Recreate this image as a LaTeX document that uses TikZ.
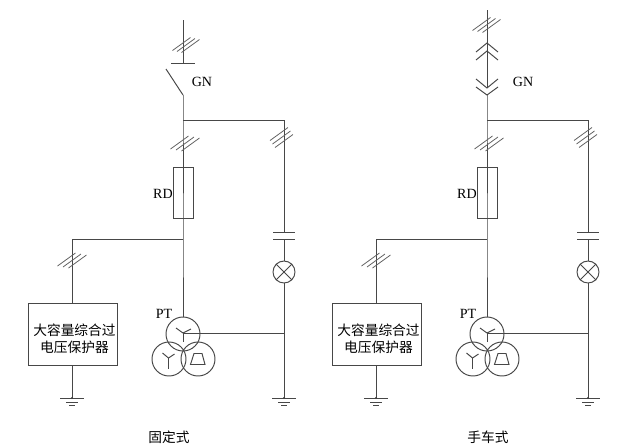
\documentclass[tikz,border=0pt]{standalone}
\usepackage{fontspec}
\usetikzlibrary{calc}
\setmainfont{Liberation Serif}
\newfontfamily\cjk{Noto Sans CJK SC}
\tikzset{
  wire/.style = {draw=black!72, line width=.55pt},
  hatch/.style = {draw=black!62, line width=.45pt},
  lbl/.style = {inner sep=0pt, font=\fontsize{8}{9}\selectfont},
  cjklbl/.style = {inner sep=0pt, align=center, font=\cjk\fontsize{7.8}{9.7}\selectfont},
}
% three slanted strokes over a line, second argument is their spacing
\newcommand{\hatchmark}[2]{
  \draw[hatch] ($(#1)+(-9,6.5)-(#2)$) -- ($(#1)+(9,-6.5)-(#2)$);
  \draw[hatch] ($(#1)+(-9,6.5)$) -- ($(#1)+(9,-6.5)$);
  \draw[hatch] ($(#1)+(-9,6.5)+(#2)$) -- ($(#1)+(9,-6.5)+(#2)$);
}
\newcommand{\earth}[1]{
  \draw[wire] ($(#1)+(-12,0)$) -- ($(#1)+(12,0)$);
  \draw[wire] ($(#1)+(-6,4)$) -- ($(#1)+(6,4)$);
  \draw[wire] ($(#1)+(-3,7)$) -- ($(#1)+(3,7)$);
  \fill[black!75] (#1) circle (1.2);
}
% everything below the isolating switch
\newcommand{\feeder}{
  % nodes
  \coordinate (top) at (183, 95);
  \coordinate (tee) at (183, 120);
  \coordinate (bend) at (284, 120);
  \coordinate (tap) at (183, 239);
  \coordinate (tapbend) at (72, 239);
  \coordinate (star) at (183, 333);
  \coordinate (starend) at (284, 333);
  \coordinate (gnda) at (72, 398);
  \coordinate (gndb) at (284, 398);
  \coordinate (capa) at (284, 232);
  \coordinate (capb) at (284, 239);
  \node[wire, minimum width=20*.02cm, minimum height=51*.02cm, inner sep=0pt] (fuse) at (183, 192.5) {};
  \node[wire, circle, minimum size=22*.02cm, inner sep=0pt] (lamp) at (284, 272) {};
  \node[wire, rectangle, minimum width=89*.02cm, minimum height=62*.02cm] (box) at (72.5, 334) {};
  \node[cjklbl] (boxtext) at (74.5, 338.5) {大容量综合过\\电压保护器};
  \node[wire, circle, minimum size=34*.02cm, inner sep=0pt] (pta) at (183, 334) {};
  \node[wire, circle, minimum size=34*.02cm, inner sep=0pt] (ptb) at (169, 359) {};
  \node[wire, circle, minimum size=34*.02cm, inner sep=0pt] (ptc) at (198, 359) {};
  \node[lbl] (rd) at (163, 194) {RD};
  \node[lbl] (pt) at (164, 314) {PT};
  % lines
  \draw[wire] (top) -- (tee) -- (fuse.north);
  \draw[wire] (fuse.north) -- (fuse.south) -- (tap) -- (pta.north);
  \draw[wire] (tap) -- (tapbend) -- (box.north -| tapbend);
  \draw[wire] (box.south -| gnda) -- (gnda);
  \draw[wire] (tee) -- (bend) -- (capa);
  \draw[wire] (capb) -- (lamp.north);
  \draw[wire] (lamp.south) -- (gndb);
  \draw[wire] ($(capa)+(-11,0)$) -- ($(capa)+(11,0)$);
  \draw[wire] ($(capb)+(-11,0)$) -- ($(capb)+(11,0)$);
  \draw[wire] (lamp.north west) -- (lamp.south east);
  \draw[wire] (lamp.north east) -- (lamp.south west);
  \draw[wire] (star) -- (starend);
  \draw[wire] (star) -- ($(star)+(0,9)$);
  \draw[wire] (star) -- ($(star)+(-7,-5)$);
  \draw[wire] (star) -- ($(star)+(8,-4)$);
  \draw[wire] (168.5, 358) -- (162.5, 353);
  \draw[wire] (168.5, 358) -- (174.5, 354);
  \draw[wire] (168.5, 358) -- (168.5, 369);
  \draw[wire] (194, 353.5) -- (190.5, 364.5) -- (205, 364.5) -- (202, 353.5) -- cycle;
  % marks
  \hatchmark{185, 143.5}{5.5, 1}
  \hatchmark{281.5, 137.5}{2.5, 3.5}
  \hatchmark{72, 260.5}{5.5, 1}
  \earth{gnda}
  \earth{gndb}
}
\begin{document}
\begin{tikzpicture}[x=.02cm, y=-.02cm]
  \useasboundingbox (0, 0) rectangle (636, 447);
  % fixed
  \begin{scope}[name prefix=a-]
    \feeder
    \coordinate (bus) at (183, 20);
    \coordinate (busend) at (183, 63);
    \coordinate (blade) at (166, 69);
    \draw[wire] (bus) -- (busend);
    \draw[wire] ($(busend)+(-12,0)$) -- ($(busend)+(12,0)$);
    \draw[wire] (blade) -- (top);
    \hatchmark{186, 45}{4.5, 1}
    \node[lbl] (gn) at (202, 82) {GN};
    \node[cjklbl] (cap) at (169, 437) {固定式};
  \end{scope}
  % withdrawable
  \begin{scope}[name prefix=b-, xshift=304*.02cm]
    \feeder
    \coordinate (bus) at (183, 10);
    \coordinate (plug) at (183, 43);
    \coordinate (socket) at (183, 51);
    \coordinate (plugb) at (183, 88);
    \coordinate (socketb) at (183, 95);
    \draw[wire] (bus) -- (plugb);
    \draw[wire] (socketb) -- (top);
    \draw[wire] (172, 52) -- (plug) -- (194, 52);
    \draw[wire] (172, 60) -- (socket) -- (194, 60);
    \draw[wire] (172, 79) -- (plugb) -- (194, 79);
    \draw[wire] (172, 87) -- (socketb) -- (194, 87);
    \hatchmark{182.5, 25}{5, 1}
    \node[lbl] (gn) at (219, 82) {GN};
    \node[cjklbl] (cap) at (184, 437) {手车式};
  \end{scope}
\end{tikzpicture}
\end{document}
